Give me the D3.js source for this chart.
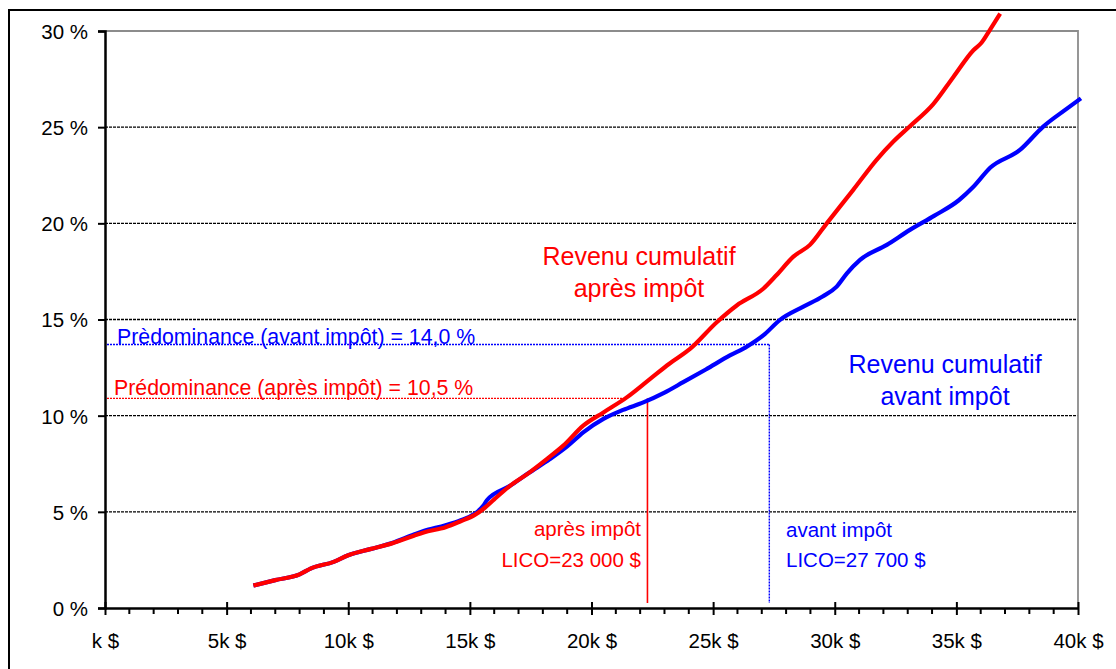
<!DOCTYPE html>
<html>
<head>
<meta charset="utf-8">
<script src="https://cdn.jsdelivr.net/npm/d3@7"></script>
<style>
  html, body { margin: 0; padding: 0; background: #fff; }
  svg { display: block; font-family: "Liberation Sans", Arial, sans-serif; }
</style>
</head>
<body>
<svg width="1116" height="669"></svg>
<script>
// Revenu en milliers de $ (x) et part cumulative en % (y)
var apresX = [6.1, 7.0, 8.0, 8.45, 9.4, 10.0, 10.9, 11.8, 12.7, 13.1, 14.0, 14.6, 15.2, 15.6, 16.0,
  16.65, 17.4, 18.16, 18.84, 19.66, 20.49, 21.45, 22.4, 23.2, 24.05, 25.15, 25.97, 27.06, 27.6,
  28.3, 28.98, 29.67, 30.76, 31.72, 32.41, 33.09, 34.05, 34.87, 35.7, 36.04, 36.38, 36.8];
var apresY = [1.17, 1.45, 1.75, 2.05, 2.4, 2.74, 3.06, 3.36, 3.76, 3.93, 4.2, 4.5, 4.84, 5.2, 5.65,
  6.35, 7.0, 7.74, 8.44, 9.48, 10.17, 10.95, 11.9, 12.7, 13.47, 14.86, 15.73, 16.6, 17.3,
  18.27, 18.88, 20.0, 21.74, 23.3, 24.25, 25.05, 26.2, 27.6, 29.0, 29.4, 30.06, 30.9];

var avantX = [6.1, 7.0, 8.0, 8.45, 9.4, 10.0, 10.9, 11.8, 12.7, 13.1, 14.0, 14.6, 15.2, 15.55, 15.7,
  16.65, 17.4, 18.29, 19.0, 19.66, 20.49, 21.3, 22.13, 23.0, 23.77, 24.7, 25.69, 26.4, 27.06,
  27.75, 28.71, 29.5, 30.08, 30.5, 31.04, 32.14, 33.09, 34.1, 35.1, 35.7, 36.4, 37.6, 38.57,
  39.53, 40.12];
var avantY = [1.17, 1.45, 1.75, 2.05, 2.4, 2.74, 3.06, 3.38, 3.82, 4.0, 4.3, 4.55, 4.9, 5.31, 5.6,
  6.35, 7.0, 7.74, 8.4, 9.13, 9.83, 10.3, 10.69, 11.2, 11.74, 12.4, 13.13, 13.6, 14.17,
  14.98, 15.67, 16.2, 16.71, 17.4, 18.1, 18.88, 19.66, 20.4, 21.2, 21.9, 22.9, 23.8, 25.03,
  25.95, 26.5];

var xTicks = [0, 5, 10, 15, 20, 25, 30, 35, 40];
var xLabels = ["k $", "5k $", "10k $", "15k $", "20k $", "25k $", "30k $", "35k $", "40k $"];
var yTicks = [0, 5, 10, 15, 20, 25, 30];

// Seuils (LICO) et prédominance, tels que tracés
var licoApres = 22.3, licoAvant = 27.31;
var predApres = 10.9, predAvant = 13.7;
var predApresFin = 21.3;

var svg = d3.select("svg");
var x = d3.scaleLinear().domain([0, 40]).range([105, 1078]);
var y = d3.scaleLinear().domain([0, 30]).range([608, 31]);

// cadre extérieur
svg.append("rect")
   .attr("x", 9).attr("y", 10)
   .attr("width", 1200).attr("height", 700)
   .attr("fill", "none").attr("stroke", "#000").attr("stroke-width", 2);

// grille
svg.append("g").selectAll("line")
   .data(yTicks.filter(function (d) { return d > 0 && d < 30; }))
   .enter().append("line")
   .attr("x1", x(0)).attr("x2", x(40))
   .attr("y1", function (d) { return y(d); }).attr("y2", function (d) { return y(d); })
   .attr("stroke", "#000").attr("stroke-width", 1.3).attr("stroke-dasharray", "3,1");

// bordure de la zone de tracé
svg.append("path")
   .attr("d", "M" + x(0) + "," + y(30) + "H" + x(40) + "V" + y(0))
   .attr("fill", "none").attr("stroke", "#8c8c8c").attr("stroke-width", 1.8);

// axe Y
var yAxis = svg.append("g").attr("transform", "translate(" + x(0) + ",0)")
   .call(d3.axisLeft(y).tickValues(yTicks).tickSize(7).tickFormat(function (d) { return d + " %"; }));
yAxis.select(".domain").attr("stroke-width", 2.5);
yAxis.selectAll(".tick line").attr("stroke-width", 2);
yAxis.selectAll(".tick text")
   .attr("x", -17).attr("dy", "0.36em")
   .attr("font-size", 20.5).attr("font-family", '"Liberation Sans", Arial, sans-serif').attr("fill", "#000");

// axe X : graduations mineures
svg.append("g").selectAll("line")
   .data(d3.range(0, 41).filter(function (d) { return d % 5 !== 0; }))
   .enter().append("line")
   .attr("x1", function (d) { return x(d); }).attr("x2", function (d) { return x(d); })
   .attr("y1", y(0)).attr("y2", y(0) + 6)
   .attr("stroke", "#000").attr("stroke-width", 2);

var xAxis = svg.append("g").attr("transform", "translate(0," + y(0) + ")")
   .call(d3.axisBottom(x).tickValues(xTicks).tickSize(7).tickSizeOuter(0)
     .tickFormat(function (d, i) { return xLabels[i]; }));
xAxis.select(".domain").attr("stroke-width", 2.5);
xAxis.selectAll(".tick line").attr("y1", -6).attr("y2", 7).attr("stroke-width", 2);
xAxis.selectAll(".tick text")
   .attr("y", 40).attr("dy", 0)
   .attr("font-size", 20.5).attr("font-family", '"Liberation Sans", Arial, sans-serif').attr("fill", "#000");

// lignes de prédominance et de LICO
svg.append("line")
   .attr("x1", 107).attr("x2", x(licoAvant))
   .attr("y1", y(predAvant)).attr("y2", y(predAvant))
   .attr("stroke", "#0000ff").attr("stroke-width", 1.4).attr("stroke-dasharray", "2,1");
svg.append("line")
   .attr("x1", x(licoAvant)).attr("x2", x(licoAvant))
   .attr("y1", y(predAvant)).attr("y2", 603)
   .attr("stroke", "#0000ff").attr("stroke-width", 1.4).attr("stroke-dasharray", "2,1");
svg.append("line")
   .attr("x1", 107).attr("x2", x(predApresFin))
   .attr("y1", y(predApres)).attr("y2", y(predApres))
   .attr("stroke", "#ff0000").attr("stroke-width", 1.4).attr("stroke-dasharray", "2,1");
svg.append("line")
   .attr("x1", x(licoApres)).attr("x2", x(licoApres))
   .attr("y1", y(predApres)).attr("y2", 603)
   .attr("stroke", "#ff0000").attr("stroke-width", 1.6);

// courbes
var line = d3.line()
   .curve(d3.curveMonotoneX)
   .x(function (d) { return x(d[0]); })
   .y(function (d) { return y(d[1]); });

svg.append("path")
   .datum(d3.zip(avantX, avantY))
   .attr("d", line)
   .attr("fill", "none").attr("stroke", "#0000ff").attr("stroke-width", 4.2)
   .attr("stroke-linejoin", "round");
svg.append("path")
   .datum(d3.zip(apresX, apresY))
   .attr("d", line)
   .attr("fill", "none").attr("stroke", "#ff0000").attr("stroke-width", 4.2)
   .attr("stroke-linejoin", "round");

// textes
function label(txt, px, py, size, color, anchor) {
  svg.append("text")
     .attr("x", px).attr("y", py)
     .attr("font-size", size).attr("fill", color)
     .attr("text-anchor", anchor || "start")
     .text(txt);
}

label("Prèdominance (avant impôt) = 14,0 %", 117, 344, 21.3, "#0000ff");
label("Prédominance (après impôt) = 10,5 %", 114, 395, 21.3, "#ff0000");

label("Revenu cumulatif", 639, 265, 25, "#ff0000", "middle");
label("après impôt", 639, 297, 25, "#ff0000", "middle");
label("Revenu cumulatif", 945, 373, 25, "#0000ff", "middle");
label("avant impôt", 945, 405, 25, "#0000ff", "middle");

label("après impôt", 641, 536, 20.5, "#ff0000", "end");
label("LICO=23 000 $", 641, 567, 20.5, "#ff0000", "end");
label("avant impôt", 786, 537, 20.5, "#0000ff");
label("LICO=27 700 $", 786, 567, 20.5, "#0000ff");
</script>
</body>
</html>
